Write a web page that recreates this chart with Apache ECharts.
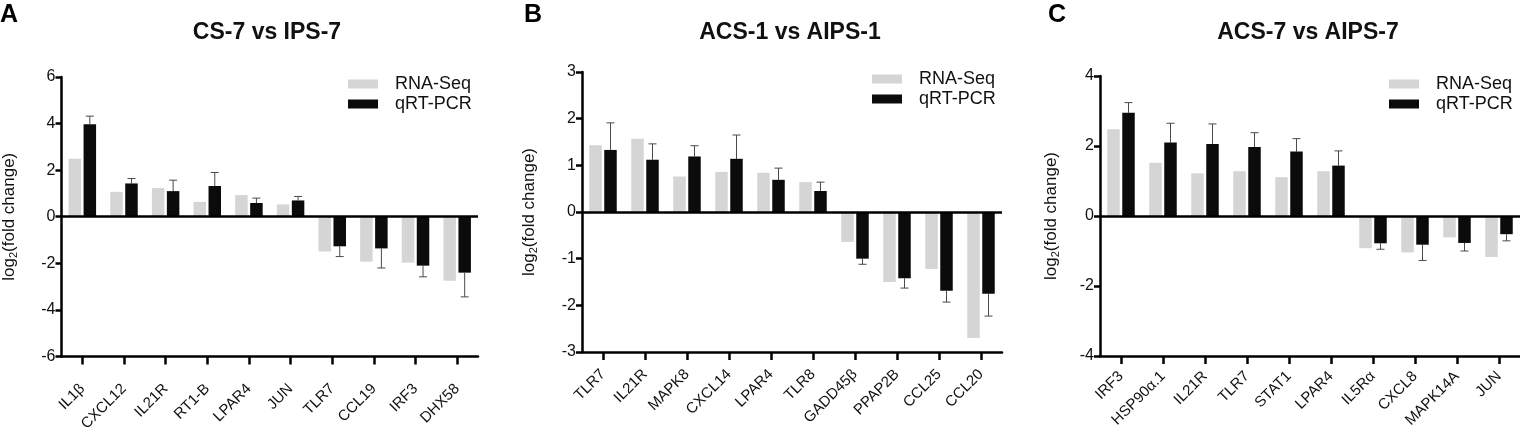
<!DOCTYPE html>
<html>
<head>
<meta charset="utf-8">
<script src="https://cdn.jsdelivr.net/npm/echarts@6/dist/echarts.min.js"></script>
<style>
  html, body { margin: 0; padding: 0; background: #fff; }
  #chart { width: 1520px; height: 434px; }
</style>
</head>
<body>
<div id="chart"></div>
<script>
// panel A: CS-7 vs IPS-7
var catsA = ['IL1β', 'CXCL12', 'IL21R', 'RT1-B', 'LPAR4', 'JUN', 'TLR7', 'CCL19', 'IRF3', 'DHX58'];
var rnaA = [2.49, 1.07, 1.23, 0.64, 0.93, 0.53, -1.49, -1.93, -1.97, -2.75];
var pcrA = [3.97, 1.43, 1.10, 1.32, 0.59, 0.70, -1.27, -1.36, -2.10, -2.40];
var sdA = [0.35, 0.21, 0.47, 0.58, 0.21, 0.17, 0.44, 0.84, 0.48, 1.04];

// panel B: ACS-1 vs AIPS-1
var catsB = ['TLR7', 'IL21R', 'MAPK8', 'CXCL14', 'LPAR4', 'TLR8', 'GADD45β', 'PPAP2B', 'CCL25', 'CCL20'];
var rnaB = [1.43, 1.57, 0.76, 0.86, 0.84, 0.64, -0.64, -1.50, -1.22, -2.70];
var pcrB = [1.33, 1.12, 1.19, 1.14, 0.69, 0.45, -1.00, -1.42, -1.69, -1.75];
var sdB = [0.58, 0.34, 0.23, 0.51, 0.25, 0.19, 0.12, 0.21, 0.24, 0.48];

// panel C: ACS-7 vs AIPS-7
var catsC = ['IRF3', 'HSP90α.1', 'IL21R', 'TLR7', 'STAT1', 'LPAR4', 'IL5Rα', 'CXCL8', 'MAPK14A', 'JUN'];
var rnaC = [2.48, 1.52, 1.22, 1.28, 1.11, 1.28, -0.92, -1.04, -0.61, -1.17];
var pcrC = [2.95, 2.10, 2.06, 1.97, 1.84, 1.44, -0.78, -0.82, -0.77, -0.52];
var sdC = [0.29, 0.55, 0.57, 0.41, 0.37, 0.42, 0.17, 0.45, 0.23, 0.19];

var titles = ['CS-7 vs IPS-7', 'ACS-1 vs AIPS-1', 'ACS-7 vs AIPS-7'];
var letters = ['A', 'B', 'C'];
var yRange = [[-6, 6, 2], [-3, 3, 1], [-4, 4, 2]];

var FONT = '"Liberation Sans", Arial, Helvetica, sans-serif';
var GRAY = '#d5d5d5';
var BLACK = '#0b0b0b';
var TEXT = '#111';
var BAR_W = 12.5;

var panels = [
  { cats: catsA, rna: rnaA, pcr: pcrA, sd: sdA, left: 60, top: 77, width: 418, labelMargin: 30, nameGap: 42,
    titleX: 267, letterX: 0, legendX: 348, legendY: 75 },
  { cats: catsB, rna: rnaB, pcr: pcrB, sd: sdB, left: 582, top: 72, width: 420, labelMargin: 20, nameGap: 43,
    titleX: 790, letterX: 524, legendX: 872, legendY: 70 },
  { cats: catsC, rna: rnaC, pcr: pcrC, sd: sdC, left: 1100, top: 76, width: 420, labelMargin: 18, nameGap: 39,
    titleX: 1308, letterX: 1048, legendX: 1389, legendY: 75 }
];

var grids = [], xAxes = [], yAxes = [], series = [], title = [], legend = [];

panels.forEach(function (p, i) {
  grids.push({ left: p.left, top: p.top, width: p.width, height: 280 });

  xAxes.push({
    type: 'category', gridIndex: i, data: p.cats,
    axisLine: { show: true, onZero: false, lineStyle: { color: '#000', width: 2.5 } },
    axisTick: { show: true, alignWithLabel: true, length: 8, lineStyle: { color: '#000', width: 2.5 } },
    axisLabel: { rotate: 45, margin: p.labelMargin, fontSize: 15, color: TEXT, fontFamily: FONT, interval: 0 }
  });

  yAxes.push({
    type: 'value', gridIndex: i, min: yRange[i][0], max: yRange[i][1], interval: yRange[i][2],
    splitLine: { show: false },
    axisLine: { show: true, lineStyle: { color: '#000', width: 2.5 } },
    axisTick: { show: true, length: 6, lineStyle: { color: '#000', width: 2.5 } },
    axisLabel: { fontSize: 16, color: TEXT, fontFamily: FONT, margin: 6 },
    name: 'log{sub|2}(fold change)', nameLocation: 'middle', nameRotate: 90, nameGap: p.nameGap,
    nameTextStyle: {
      fontSize: 17, color: TEXT, fontFamily: FONT,
      rich: { sub: { fontSize: 11, color: TEXT, fontFamily: FONT, padding: [9, 0, 0, 0] } }
    }
  });

  series.push({
    name: 'RNA-Seq', type: 'bar', xAxisIndex: i, yAxisIndex: i, data: p.rna,
    barWidth: BAR_W, barGap: '20%', itemStyle: { color: GRAY },
    markLine: {
      silent: true, symbol: 'none', label: { show: false },
      lineStyle: { color: '#000', width: 2.5, type: 'solid' },
      data: [{ yAxis: 0 }]
    }
  });
  series.push({
    name: 'qRT-PCR', type: 'bar', xAxisIndex: i, yAxisIndex: i, data: p.pcr,
    barWidth: BAR_W, barGap: '20%', itemStyle: { color: BLACK }
  });

  // one-sided error bars on qRT-PCR bars
  var errData = p.pcr.map(function (v, k) {
    return [k, v, v >= 0 ? v + p.sd[k] : v - p.sd[k]];
  });
  series.push({
    type: 'custom', xAxisIndex: i, yAxisIndex: i, data: errData, z: 1, silent: true,
    renderItem: function (params, api) {
      var base = api.coord([api.value(0), api.value(1)]);
      var end = api.coord([api.value(0), api.value(2)]);
      var x = base[0] + BAR_W * 0.6;
      var style = { stroke: '#4a4a4a', lineWidth: 1 };
      return {
        type: 'group',
        children: [
          { type: 'line', shape: { x1: x, y1: base[1], x2: x, y2: end[1] }, style: style },
          { type: 'line', shape: { x1: x - 4, y1: end[1], x2: x + 4, y2: end[1] }, style: style }
        ]
      };
    }
  });

  title.push({
    text: titles[i], left: p.titleX, top: 21, textAlign: 'center', padding: 0,
    textStyle: { fontSize: 23, fontWeight: 'bold', color: '#111', fontFamily: FONT }
  });
  title.push({
    text: letters[i], left: p.letterX, top: 3, padding: 0,
    textStyle: { fontSize: 25, fontWeight: 'bold', color: '#000', fontFamily: FONT }
  });

  legend.push({
    orient: 'vertical', left: p.legendX, top: p.legendY, padding: 0,
    data: ['RNA-Seq', 'qRT-PCR'], icon: 'rect', itemWidth: 30, itemHeight: 9, itemGap: 2,
    selectedMode: false,
    textStyle: { fontSize: 18, color: TEXT, fontFamily: FONT, padding: [0, 0, 0, 12] }
  });
});

var chart = echarts.init(document.getElementById('chart'));
chart.setOption({
  animation: false,
  title: title,
  legend: legend,
  grid: grids,
  xAxis: xAxes,
  yAxis: yAxes,
  series: series
});
</script>
</body>
</html>
